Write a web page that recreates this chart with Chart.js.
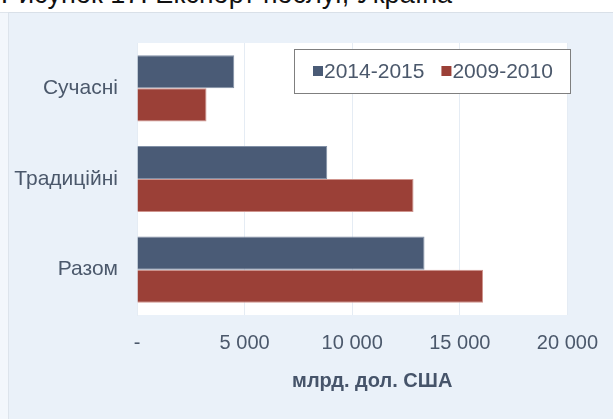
<!DOCTYPE html>
<html>
<head>
<meta charset="utf-8">
<script src="https://cdn.jsdelivr.net/npm/chart.js@4"></script>
<style>
  body { margin: 0; background: #fff; width: 613px; height: 419px; overflow: hidden; position: relative; font-family: "Liberation Sans", Arial, sans-serif; }
  .caption { position: absolute; left: 1px; top: -19px; font-size: 27px; line-height: 27px; color: #111; white-space: nowrap; }
  .strip { position: absolute; left: 0; top: 12px; width: 8px; height: 407px; background: #f3f7fc; border-top: 1px solid #dfe5ec; }
  .box { position: absolute; left: 8px; top: 12px; width: 605px; height: 407px; background: #eaf1f9; border-top: 1px solid #d9e0e8; border-left: 1px solid #dde4ec; box-sizing: border-box; }
  canvas { position: absolute; left: 0; top: 0; }
</style>
</head>
<body>
<div class="caption">Рисунок 17. Експорт послуг, Україна</div>
<div class="strip"></div>
<div class="box"><canvas id="chart" width="605" height="407"></canvas></div>
<script>
// export of services, bn USD
const categories = ["Сучасні", "Традиційні", "Разом"];
const seriesNames = ["2014-2015", "2009-2010"];
const values2014 = [4520, 8840, 13360];
const values2009 = [3230, 12850, 16080];
const xTicks = [0, 5000, 10000, 15000, 20000];
const axisTitle = "млрд. дол. США";

const colors = ["#4a5b76", "#9b4037"];
const edgeColors = ["#8190a6", "#cf948d"];
const textColor = "#4b586b";
const font = "'Liberation Sans', Arial, sans-serif";

function fmt(v) {
  if (v === 0) return "-";
  return String(v).replace(/\B(?=(\d{3})+(?!\d))/g, " ");
}

// white plot area
const plotBg = {
  id: "plotBg",
  beforeDraw(chart) {
    const { ctx, chartArea: a } = chart;
    ctx.save();
    ctx.fillStyle = "#ffffff";
    ctx.fillRect(a.left, a.top, a.right - a.left, a.bottom - a.top);
    ctx.restore();
  }
};

// legend box inside the plot + axis title (sits a bit right of centre in the original)
const extras = {
  id: "extras",
  afterDraw(chart) {
    const { ctx, chartArea: a } = chart;
    const x = 285, y = 36, w = 276, h = 44;
    ctx.save();
    ctx.fillStyle = "#ffffff";
    ctx.fillRect(x, y, w, h);
    ctx.strokeStyle = "#7f7f7f";
    ctx.lineWidth = 1;
    ctx.strokeRect(x + 0.5, y + 0.5, w, h);
    ctx.font = "21px " + font;
    ctx.textBaseline = "middle";
    let cx = x + 19;
    chart.data.datasets.forEach((ds) => {
      ctx.fillStyle = ds.backgroundColor;
      ctx.fillRect(cx, y + h / 2 - 5, 10, 10);
      cx += 11;
      ctx.fillStyle = textColor;
      ctx.fillText(ds.label, cx, y + h / 2 + 1);
      cx += ctx.measureText(ds.label).width + 17;
    });

    ctx.font = "bold 20px " + font;
    ctx.fillStyle = "#46546a";
    ctx.textAlign = "center";
    ctx.fillText(axisTitle, (a.left + a.right) / 2 + 20, 368);
    ctx.restore();
  }
};

new Chart(document.getElementById("chart"), {
  type: "bar",
  data: {
    labels: categories,
    datasets: [
      { label: seriesNames[0], data: values2014, backgroundColor: colors[0], borderColor: edgeColors[0], borderWidth: 1 },
      { label: seriesNames[1], data: values2009, backgroundColor: colors[1], borderColor: edgeColors[1], borderWidth: 1 }
    ]
  },
  options: {
    indexAxis: "y",
    responsive: false,
    animation: false,
    layout: { padding: { left: 0, right: 43, top: 30, bottom: 0 } },
    datasets: { bar: { categoryPercentage: 0.73, barPercentage: 1 } },
    plugins: { legend: { display: false }, tooltip: { enabled: false } },
    scales: {
      x: {
        min: 0,
        max: 20000,
        afterFit(s) { s.height = 105; },
        afterBuildTicks(s) { s.ticks = xTicks.map(v => ({ value: v })); },
        grid: { color: "#e5ecf4", drawTicks: false },
        border: { display: false },
        ticks: { padding: 16, color: textColor, font: { size: 20, family: font }, callback: v => fmt(v), maxRotation: 0 }
      },
      y: {
        afterFit(s) { s.width = 128; },
        grid: { display: false },
        border: { color: "#e5ecf4" },
        ticks: { padding: 11, color: textColor, font: { size: 21, family: font } }
      }
    }
  },
  plugins: [plotBg, extras]
});
</script>
</body>
</html>
